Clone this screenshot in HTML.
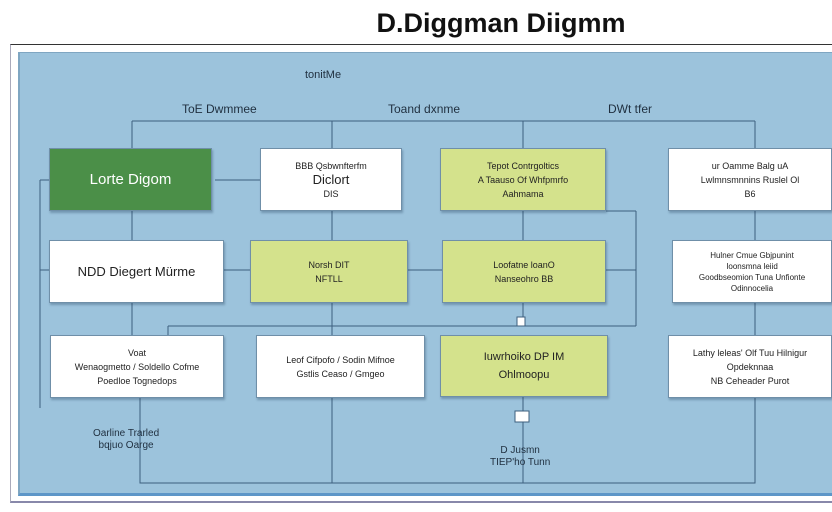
<!DOCTYPE html>
<html><head><meta charset="utf-8"><style>
body{margin:0;width:832px;height:512px;background:#fff;position:relative;overflow:hidden;font-family:"Liberation Sans",sans-serif}
.a{position:absolute}
.b{position:absolute;box-sizing:border-box;border:1px solid #6f8fa8;display:flex;flex-direction:column;align-items:center;justify-content:center;text-align:center;font-size:9px;line-height:14px;color:#222;box-shadow:1px 2px 2px rgba(40,70,100,.35)}
.w{background:#fff}.y{background:#d4e28c}.g{background:#4b8f48;color:#fff;font-size:15px}
.t{position:absolute;font-size:11px;color:#1f2f3f;white-space:nowrap}
</style></head><body>
<div class="a" style="left:0;top:8px;width:832px;text-align:center;padding-left:170px;box-sizing:border-box;font-size:27px;font-weight:bold;color:#111">D.Diggman Diigmm</div>
<div class="a" style="left:10px;top:44px;width:822px;height:456px;border-top:1px solid #333;border-left:1px solid #aab;border-bottom:2px solid #88a"></div>
<div class="a" style="left:18px;top:52px;width:814px;height:440px;background:#9cc3dc;border-left:2px solid #7fa6c2;border-top:1px solid #7fa6c2;border-bottom:3px solid #5d96c8"></div>
<svg class="a" style="left:0;top:0" width="832" height="512">
<g stroke="#3d5f7e" stroke-width="1" fill="none">
<path d="M132 121H755M132 121V148M332 121V148M523 121V148M755 121V148"/>
<path d="M132 211V240M332 211V240M523 211V240M755 211V240"/>
<path d="M132 303V335M332 303V335M523 303V318M755 303V335"/>
<path d="M40 180H49M40 180V408M40 270H49M215 180H260"/>
<path d="M224 270H250M408 270H442M606 270H636M636 211V326M606 211H636M168 326H636M168 326V335"/>
<path d="M140 398V483H755V398M332 398V483M523 397V483"/>
</g>
<rect x="517" y="317" width="8" height="9" fill="#fff" stroke="#3d5f7e"/>
<rect x="515" y="411" width="14" height="11" fill="#fff" stroke="#3d5f7e"/>
</svg>
<div class="t" style="left:305px;top:69px">tonitMe</div>
<div class="t" style="left:182px;top:102px;font-size:12px">ToE Dwmmee</div>
<div class="t" style="left:388px;top:102px;font-size:12px">Toand dxnme</div>
<div class="t" style="left:608px;top:102px;font-size:12px">DWt tfer</div>
<div class="b g" style="left:49px;top:148px;width:163px;height:63px">Lorte Digom</div>
<div class="b w" style="left:260px;top:148px;width:142px;height:63px">BBB Qsbwnfterfm<br><span style="font-size:13px">Diclort</span>DIS</div>
<div class="b y" style="left:440px;top:148px;width:166px;height:63px">Tepot Contrgoltics<br>A Taauso Of Whfpmrfo<br>Aahmama</div>
<div class="b w" style="left:668px;top:148px;width:164px;height:63px">ur Oamme Balg uA<br>Lwlmnsmnnins Ruslel Ol<br>B6</div>
<div class="b w" style="left:49px;top:240px;width:175px;height:63px;font-size:13px">NDD Diegert Mürme</div>
<div class="b y" style="left:250px;top:240px;width:158px;height:63px">Norsh DIT<br>NFTLL</div>
<div class="b y" style="left:442px;top:240px;width:164px;height:63px">Loofatne loanO<br>Nanseohro BB</div>
<div class="b w" style="left:672px;top:240px;width:160px;height:63px;font-size:8px;line-height:11px">Hulner Cmue Gbjpunint<br>Ioonsmna leiid<br>Goodbseomion Tuna Unfionte<br>Odinnocelia</div>
<div class="b w" style="left:50px;top:335px;width:174px;height:63px">Voat<br>Wenaogmetto / Soldello Cofme<br>Poedloe Tognedops</div>
<div class="b w" style="left:256px;top:335px;width:169px;height:63px">Leof Cifpofo / Sodin Mifnoe<br>Gstlis Ceaso / Gmgeo</div>
<div class="b y" style="left:440px;top:335px;width:168px;height:62px;font-size:11px;line-height:18px">Iuwrhoiko DP IM<br>Ohlmoopu</div>
<div class="b w" style="left:668px;top:335px;width:164px;height:63px">Lathy leleas' Olf Tuu Hilnigur<br>Opdeknnaa<br>NB Ceheader Purot</div>
<div class="t" style="left:93px;top:428px;font-size:10px;text-align:center;line-height:12px">Oarline Trarled<br>bqjuo Oarge</div>
<div class="t" style="left:490px;top:445px;font-size:10px;text-align:center;line-height:12px">D Jusmn<br>TIEP'ho Tunn</div>
</body></html>
